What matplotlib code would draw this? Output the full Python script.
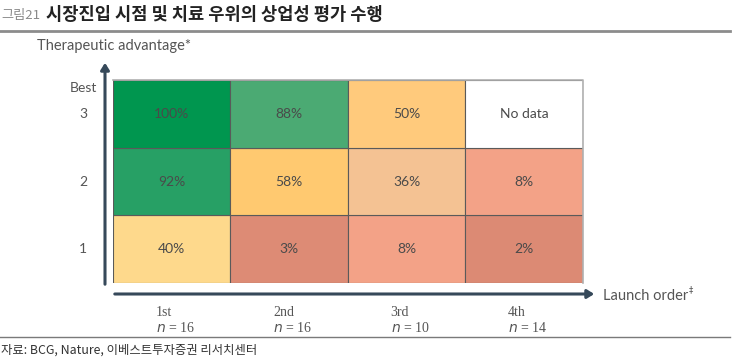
import matplotlib
matplotlib.use("Agg")
import matplotlib.pyplot as plt
from matplotlib.patches import Rectangle, FancyArrowPatch
import numpy as np

# data
launch_order = ["1st", "2nd", "3rd", "4th"]
n_counts = [16, 16, 10, 14]
advantage_levels = [1, 2, 3]
# rows: advantage 1, 2, 3 ; columns: launch order 1st..4th ; None = no data
success_pct = [
    [40, 3, 8, 2],
    [92, 58, 36, 8],
    [100, 88, 50, None],
]
cell_colors = [
    ["#fed98c", "#dd8b75", "#f3a287", "#dc8a74"],
    ["#27a065", "#ffc970", "#f4c293", "#f3a287"],
    ["#00964f", "#4baa73", "#ffca7c", "#ffffff"],
]

W, H = 745, 363
fig = plt.figure(figsize=(W / 100, H / 100), dpi=100)

def fx(px):
    return px / W

def fy(py):
    return 1 - py / H

ax = fig.add_axes([fx(113), fy(283), fx(583) - fx(113), fy(80) - fy(283)])
ax.set_xlim(0, len(launch_order))
ax.set_ylim(0, len(advantage_levels))
ax.axis("off")

txt_color = "#4a4a4a"
lab_color = "#555555"
sans = "Lato"

for i, row in enumerate(success_pct):
    for j, v in enumerate(row):
        ax.add_patch(Rectangle((j, i), 1, 1, facecolor=cell_colors[i][j],
                               edgecolor="#5a5a5a", linewidth=0.8))
        label = "No data" if v is None else f"{v}%"
        ax.text(j + 0.5, i + 0.5, label, ha="center", va="center",
                fontsize=10, color=txt_color, family=sans)
# lighter outer frame on top/right
ax.plot([0, 4, 4], [3, 3, 0], color="#b0b0b0", linewidth=1.2, clip_on=False)

# axis arrows
arrow_col = "#36495a"
fig.add_artist(FancyArrowPatch(
    (fx(105), fy(287)), (fx(105), fy(60)), transform=fig.transFigure,
    arrowstyle="-|>,head_length=4,head_width=2.5", color=arrow_col, linewidth=2.2))
fig.add_artist(FancyArrowPatch(
    (fx(112), fy(294)), (fx(597), fy(294)), transform=fig.transFigure,
    arrowstyle="-|>,head_length=4,head_width=2.5", color=arrow_col, linewidth=2.2))

# axis labels
fig.text(fx(37), fy(46), "Therapeutic advantage*", ha="left", va="center",
         fontsize=10.5, color=lab_color, family=sans)
t = fig.text(fx(603), fy(296), "Launch order", ha="left", va="center",
             fontsize=10.5, color=lab_color, family=sans)
fig.text(fx(689), fy(290), "\u2021", ha="left", va="center",
         fontsize=6, color=lab_color, family="DejaVu Sans")
fig.text(fx(83), fy(88), "Best", ha="center", va="center",
         fontsize=10, color=lab_color, family=sans)

for i, lvl in enumerate(advantage_levels):
    y_disp = ax.transData.transform((0, i + 0.5))
    y_fig = fig.transFigure.inverted().transform(y_disp)[1]
    fig.text(fx(83), y_fig, str(lvl), ha="center", va="center",
             fontsize=10, color=lab_color, family=sans)

for j, (lab, n) in enumerate(zip(launch_order, n_counts)):
    x_disp = ax.transData.transform((j + 0.5, 0))
    x_fig = fig.transFigure.inverted().transform(x_disp)[0]
    fig.text(x_fig - fx(16), fy(312), lab, ha="left", va="center",
             fontsize=10, color=lab_color, family="Liberation Serif")
    fig.text(x_fig - fx(16), fy(328), f"$n$ = {n}", ha="left", va="center",
             fontsize=10, color=lab_color, family="Liberation Serif")

# title and source
fig.text(fx(1), fy(15), "그림21", ha="left", va="center", fontsize=9.5,
         color="#8a8a8a", family="Noto Sans CJK KR")
fig.text(fx(46), fy(15), "시장진입 시점 및 치료 우위의 상업성 평가 수행", ha="left",
         va="center", fontsize=12.7, fontweight="bold", color="#222222",
         family="Noto Sans CJK KR")
fig.add_artist(plt.Line2D([0, fx(730)], [fy(31), fy(31)], color="#8c8c8c", linewidth=2))
fig.add_artist(plt.Line2D([0, fx(730)], [fy(337), fy(337)], color="#7a7a7a", linewidth=1))
fig.text(fx(1), fy(350), "자료: BCG, Nature, 이베스트투자증권 리서치센터", ha="left",
         va="center", fontsize=8.9, color="#333333", family="Noto Sans CJK KR")

fig.savefig("out.png", dpi=100, facecolor="white")
